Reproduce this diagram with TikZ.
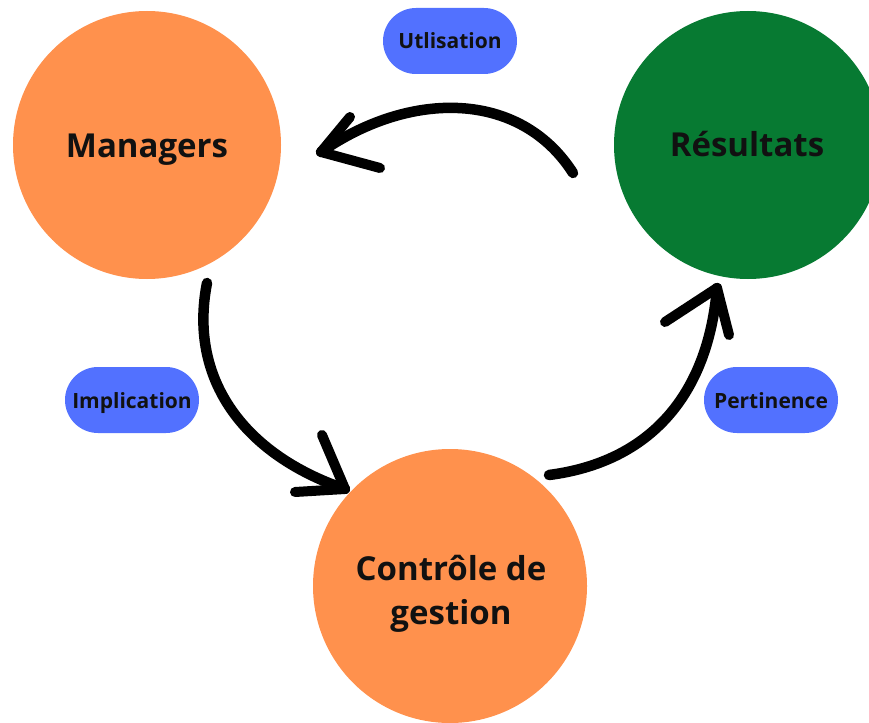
\documentclass[tikz,border=0pt]{standalone}
\usepackage{fontspec}
\usetikzlibrary{shapes.misc}
\setmainfont{Open Sans}
\definecolor{orangec}{HTML}{FF914D}
\definecolor{greenc}{HTML}{077A32}
\definecolor{bluep}{HTML}{5271FF}
\definecolor{txt}{HTML}{111111}
\begin{document}
\begin{tikzpicture}[x=1pt,y=-1pt,
  bigc/.style={circle,minimum size=268pt,inner sep=0pt},
  bigt/.style={anchor=base,inner sep=0pt,text=txt,font=\fontsize{33}{44}\selectfont\bfseries},
  pill/.style={rounded rectangle,fill=bluep,minimum width=134pt,minimum height=66pt,inner sep=0pt},
  pillt/.style={anchor=base,inner sep=0pt,text=txt,font=\fontsize{21}{24}\selectfont\bfseries},
  brush/.style={line width=10.5pt,line cap=round,line join=round,black},
  headl/.style={line width=10pt,line cap=round,line join=round,black}]
\useasboundingbox (0,0) rectangle (869,722);
\begin{scope}
\clip (0,0) rectangle (869,722);
\node[bigc,fill=orangec] (man) at (147,145) {};
\node[bigc,fill=greenc] (res) at (748,145) {};
\node[bigc,fill=orangec,minimum size=274pt] (cdg) at (450,586) {};
\end{scope}
\node[bigt] (mant) at (147,158) {Managers};
\node[bigt] (rest) at (747,157) {Résultats};
\node[bigt] (cdgt1) at (451,580) {Contrôle de};
\node[bigt] (cdgt2) at (451,624) {gestion};
\node[pill] (uti) at (450,41) {};
\node[pill] (imp) at (132,400) {};
\node[pill] (per) at (771,400) {};
\node[pillt] at (450,49) {Utlisation};
\node[pillt] at (132,408) {Implication};
\node[pillt] at (771,408) {Pertinence};
% arrows
\coordinate (a1s) at (573,173);
\coordinate (a1t) at (321,152);
\draw[brush] (a1s) .. controls (520,90) and (410,90) .. (a1t);
\draw[headl] (350,117) -- (a1t) -- (380,168);
\coordinate (a2s) at (207,283);
\coordinate (a2t) at (345,489);
\draw[brush] (a2s) .. controls (188,380) and (245,455) .. (a2t);
\draw[headl] (322,435) -- (a2t) -- (295,492);
\coordinate (a3s) at (549,475);
\coordinate (a3t) at (717,288);
\draw[brush] (a3s) .. controls (650,462) and (708,395) .. (a3t);
\draw[headl] (665,322) -- (a3t) -- (729,335);
\end{tikzpicture}
\end{document}
